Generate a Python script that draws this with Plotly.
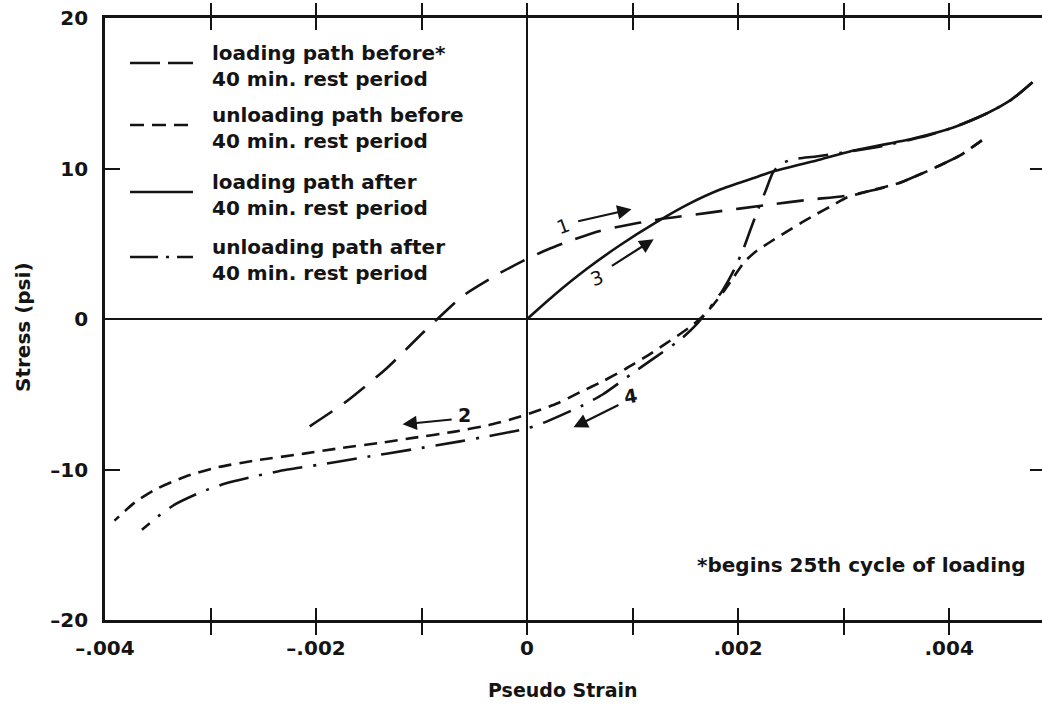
import plotly.graph_objects as go

# ---- data: stress (psi) vs pseudo strain, 25th loading cycle ----
# path 1: loading before the 40 min rest period
load_before_x = [-0.00206, -0.00171, -0.00133, -0.00099, -0.00085, -0.00061, -0.00027, 0.0,
                 0.00019, 0.00039, 0.00069, 0.00088, 0.00123, 0.00173, 0.00230, 0.00268,
                 0.00303, 0.00335, 0.00354, 0.00391, 0.00410, 0.00431]
load_before_y = [-7.13, -5.47, -3.27, -0.93, 0.0, 1.53, 3.0, 4.0,
                 4.6, 5.15, 5.85, 6.15, 6.6, 7.07, 7.6, 7.93,
                 8.2, 8.67, 9.07, 10.2, 10.85, 11.87]

# path 2: unloading before the rest period
unload_before_x = [0.00431, 0.00410, 0.00391, 0.00354, 0.00325, 0.00303, 0.00289, 0.00275,
                   0.00260, 0.00245, 0.00230, 0.00218, 0.00206, 0.00196, 0.00187, 0.00176,
                   0.00166, 0.00156, 0.00145, 0.00130, 0.00115, 0.00093, 0.00072, 0.00050,
                   0.00029, 0.000085, -0.00012, -0.00033, -0.00070, -0.00108, -0.00136,
                   -0.00179, -0.00210, -0.00257, -0.00293, -0.00323, -0.00353, -0.00372,
                   -0.00391]
unload_before_y = [11.87, 10.85, 10.2, 9.07, 8.53, 8.07, 7.53, 7.0,
                   6.4, 5.75, 5.1, 4.55, 3.8, 2.8, 1.9, 0.9,
                   0.15, -0.45, -1.0, -1.7, -2.4, -3.33, -4.13, -4.87,
                   -5.6, -6.13, -6.6, -7.0, -7.5, -7.9, -8.2,
                   -8.6, -8.93, -9.4, -9.85, -10.45, -11.35, -12.2,
                   -13.4]

# path 3: loading after the rest period
load_after_x = [0.0, 0.00025, 0.00057, 0.00088, 0.00123, 0.00152, 0.00183, 0.00214, 0.00233,
                0.00278, 0.00306, 0.00366, 0.00404, 0.00436, 0.00458, 0.00467, 0.00479]
load_after_y = [0.0, 1.55, 3.35, 4.9, 6.45, 7.6, 8.6, 9.35, 9.8,
                10.6, 11.13, 12.0, 12.73, 13.67, 14.53, 15.0, 15.73]

# path 4: unloading after the rest period
unload_after_x = [0.00479, 0.00458, 0.00436, 0.00404, 0.00373, 0.00335, 0.00306, 0.00274,
                  0.00251, 0.00240, 0.00233, 0.00226, 0.00219, 0.00212, 0.00205, 0.00196,
                  0.00185, 0.00173, 0.00161, 0.00147, 0.00119, 0.00100, 0.00072, 0.00053,
                  0.00019, 0.0, -0.00038, -0.000635, -0.00109, -0.00155, -0.00196, -0.00227,
                  -0.00255, -0.00286, -0.00310, -0.00334, -0.00350, -0.00365]
unload_after_y = [15.73, 14.53, 13.67, 12.73, 12.07, 11.47, 11.13, 10.8,
                  10.6, 10.27, 9.73, 8.5, 7.3, 6.0, 4.65, 3.25,
                  1.87, 0.73, -0.33, -1.27, -2.67, -3.6, -5.0, -5.73,
                  -6.8, -7.27, -7.8, -8.13, -8.67, -9.2, -9.67, -10.0,
                  -10.4, -10.93, -11.53, -12.33, -13.13, -14.0]

legend_labels = ["loading path before*<br>40 min. rest period",
                 "unloading path before<br>40 min. rest period",
                 "loading path after<br>40 min. rest period",
                 "unloading path after<br>40 min. rest period"]

x_tick_vals = [-0.004, -0.003, -0.002, -0.001, 0.0, 0.001, 0.002, 0.003, 0.004]
x_tick_text = ["–.004", "", "–.002", "", "0", "", ".002", "", ".004"]
y_tick_vals = [-20, -10, 0, 10, 20]
y_tick_text = ["–20", "–10", "0", "10", "20"]

# path number labels with their direction arrows
path_labels = ["1", "2", "3", "4"]
path_label_pos = [(0.00034, 6.2, -20), (-0.00059, -6.35, 0), (0.00066, 2.7, -20), (0.00098, -5.1, -10)]
path_arrows = [((0.00047, 6.47), (0.00099, 7.3)),
               ((-0.00070, -6.67), (-0.00118, -7.0)),
               ((0.00079, 3.47), (0.00120, 5.3)),
               ((0.00088, -5.67), (0.00044, -7.2))]

INK = "#141414"
FONT = "DejaVu Sans"

W, H = 1042, 706
L, R, T, B = 105, 0, 18, 86
PW, PH = W - L - R, H - T - B


def px_x(p):
    return (p - L) / PW


def px_y(p):
    return (H - B - p) / PH


styles = [
    ("27px,14px", load_before_x, load_before_y),
    ("13px,8px", unload_before_x, unload_before_y),
    ("solid", load_after_x, load_after_y),
    ("30px,11px,3px,11px", unload_after_x, unload_after_y),
]
legend_dash = ["30px,8px", "14px,8px", "solid", "28px,8px,3px,8px"]

fig = go.Figure()
for (dash, xs, ys), name in zip(styles, legend_labels):
    fig.add_trace(go.Scatter(
        x=xs, y=ys, mode="lines", name=name.replace("<br>", " "),
        line=dict(color=INK, width=2.6, dash=dash, shape="spline", smoothing=0.6),
        showlegend=False, hoverinfo="skip"))

# empty trace that carries the right-hand tick marks
fig.add_trace(go.Scatter(x=[None], y=[None], yaxis="y2", showlegend=False, hoverinfo="skip"))

# hand-built legend: line samples and two-line labels
legend_rows_px = [66, 128, 195, 260]
shapes = []
annotations = []
for row, dash, label in zip(legend_rows_px, legend_dash, legend_labels):
    shapes.append(dict(type="line", xref="paper", yref="paper",
                       x0=px_x(130), x1=px_x(193), y0=px_y(row - 3), y1=px_y(row - 3),
                       line=dict(color=INK, width=2.6, dash=dash)))
    annotations.append(dict(xref="paper", yref="paper", x=px_x(210), y=px_y(row),
                            text=label, showarrow=False, xanchor="left", yanchor="middle",
                            align="left",
                            font=dict(family=FONT, size=20, color=INK, weight="bold")))

# path numbers and arrows
for lab, (lx, ly, ang), ((tx, ty), (hx, hy)) in zip(path_labels, path_label_pos, path_arrows):
    annotations.append(dict(x=lx, y=ly, xref="x", yref="y", text=lab, showarrow=False,
                            textangle=ang,
                            font=dict(family=FONT, size=19, color=INK,
                                      weight="bold" if lab in ("2", "4") else "normal")))
    annotations.append(dict(x=hx, y=hy, ax=tx, ay=ty, xref="x", yref="y", axref="x", ayref="y",
                            text="", showarrow=True, arrowhead=2, arrowsize=1.3,
                            arrowwidth=2.2, arrowcolor=INK, standoff=0, startstandoff=0))

# footnote
annotations.append(dict(xref="paper", yref="paper", x=px_x(1028), y=px_y(565),
                        text="*begins 25th cycle of loading", showarrow=False,
                        xanchor="right", yanchor="middle",
                        font=dict(family=FONT, size=20, color=INK, weight="bold")))

# axis titles
annotations.append(dict(xref="paper", yref="paper", x=px_x(563), y=px_y(690),
                        text="Pseudo Strain", showarrow=False,
                        xanchor="center", yanchor="middle",
                        font=dict(family=FONT, size=19, color=INK, weight="bold")))
annotations.append(dict(xref="paper", yref="paper", x=px_x(23), y=px_y(327),
                        text="Stress (psi)", showarrow=False, textangle=-90,
                        xanchor="center", yanchor="middle",
                        font=dict(family=FONT, size=20, color=INK, weight="bold")))

tick_font = dict(family=FONT, size=20, color=INK, weight="bold")

fig.update_layout(
    width=W, height=H,
    margin=dict(l=L, r=R, t=T, b=B, pad=0),
    paper_bgcolor="white", plot_bgcolor="white",
    shapes=shapes, annotations=annotations,
    xaxis=dict(range=[-0.004, 0.00488], tickvals=x_tick_vals, ticktext=x_tick_text,
               ticks="inside", ticklen=12, tickwidth=2.4, tickcolor=INK,
               showline=True, linewidth=2.6, linecolor=INK, mirror="allticks",
               showgrid=False, zeroline=True, zerolinewidth=2.2, zerolinecolor=INK,
               tickfont=tick_font, ticklabelstandoff=8, fixedrange=True),
    yaxis=dict(range=[-20, 20], tickvals=y_tick_vals, ticktext=y_tick_text,
               ticks="inside", ticklen=15, tickwidth=2.4, tickcolor=INK,
               showline=True, linewidth=2.6, linecolor=INK, mirror=False,
               showgrid=False, zeroline=True, zerolinewidth=2.2, zerolinecolor=INK,
               tickfont=tick_font, ticklabelstandoff=10, fixedrange=True),
    yaxis2=dict(range=[-20, 20], overlaying="y", side="right", tickvals=[-10, 10],
                ticktext=["", ""], ticks="inside", ticklen=12, tickwidth=2.4, tickcolor=INK,
                showline=False, showgrid=False, zeroline=False, fixedrange=True),
    showlegend=False,
)

fig.write_html("out.html")
